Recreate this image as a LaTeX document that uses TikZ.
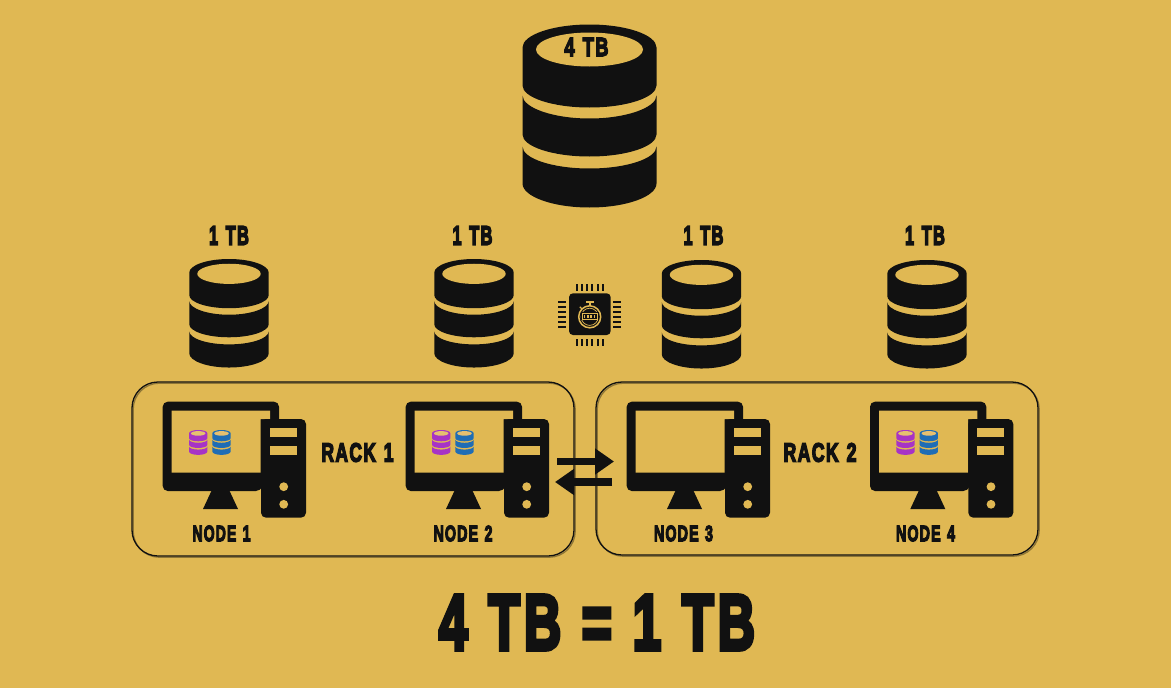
\documentclass[tikz,border=0pt]{standalone}
\usepackage{fontspec}
\usepackage{graphicx}
\usetikzlibrary{arrows.meta}
\newfontfamily\impactfont[LetterSpace=8,BoldFeatures={FakeBold=6}]{Liberation Sans}
\definecolor{bgyellow}{HTML}{E0B853}
\definecolor{ink}{HTML}{111111}
\definecolor{shade}{HTML}{8F7636}
\definecolor{dbpurple}{HTML}{A733C6}
\definecolor{dbblue}{HTML}{1F6DB5}
\definecolor{stripe}{HTML}{E6C070}
\newcommand{\fitlabel}[3]{\resizebox{#1pt}{#2pt}{\impactfont\bfseries\fontsize{30}{34}\selectfont #3}}
% database icon: centre x, top y, scale, body colour, disc colour
\newcommand{\dbicon}[5]{%
  \begin{scope}[shift={(#1,#2)},scale=#3]
    \fill[#4] (-67,23) .. controls (-67,10.4) and (-37,0) .. (0,0) .. controls (37,0) and (67,10.4) .. (67,23)
      -- (67,61) .. controls (67,73) and (37,83) .. (0,83) .. controls (-37,83) and (-67,73) .. (-67,61) -- cycle;
    \fill[#4] (-67,71) .. controls (-67,83) and (-37,94) .. (0,94) .. controls (37,94) and (67,83) .. (67,71)
      -- (67,110) .. controls (67,122) and (37,132) .. (0,132) .. controls (-37,132) and (-67,122) .. (-67,110) -- cycle;
    \fill[#4] (-67,122) .. controls (-67,134) and (-37,144) .. (0,144) .. controls (37,144) and (67,134) .. (67,122)
      -- (67,159) .. controls (67,172) and (37,183) .. (0,183) .. controls (-37,183) and (-67,172) .. (-67,159) -- cycle;
    \fill[#5] (0,25) ellipse [x radius=53.5,y radius=17];
  \end{scope}}
% computer icon: left x, top y of the monitor
\newcommand{\pcicon}[2]{%
  \begin{scope}[shift={(#1,#2)}]
    \fill[ink,rounded corners=5pt] (0,0) -- (116.3,0) -- (116.3,30) -- (98.3,89.3) -- (0,89.3) -- cycle;
    \fill[bgyellow] (9,9) -- (107.3,9) -- (107.3,17.3) -- (98,17.3) -- (98,71) -- (9,71) -- cycle;
    \fill[ink] (49.3,88) -- (66.3,88) -- (75.3,107.3) -- (40.3,107.3) -- cycle;
    \fill[ink,rounded corners=5pt] (98.3,17.3) rectangle (143.3,116);
    \fill[bgyellow] (107.3,26.6) rectangle (134,35.6);
    \fill[bgyellow] (107.3,44.3) rectangle (134,53.3);
    \fill[bgyellow] (121,85) circle [radius=4.4];
    \fill[bgyellow] (121,102.6) circle [radius=4.4];
  \end{scope}}
\tikzset{
  x=1pt,y=-1pt,
  txt/.style={inner sep=0pt,outer sep=0pt,text=ink},
  rackbox/.style={draw=ink,line width=1.3pt,rounded corners=26pt,inner sep=0pt,
    preaction={draw=shade,line width=1.3pt,transform canvas={xshift=1.2pt,yshift=-1.2pt}}},
  linkarrow/.style={draw=ink,line width=7.6pt,-{Triangle[length=19pt,width=25pt]}},
  pin/.style={fill=ink},
}
\begin{document}
\begin{tikzpicture}
\useasboundingbox (0,0) rectangle (1171,688);
\fill[bgyellow] (0,0) rectangle (1171,688);

% big database
\dbicon{589.5}{24.5}{1}{ink}{bgyellow}
\node[txt] (big) at (586.5,47) {\fitlabel{44}{18}{4\hspace{.45em}TB}};

% small databases
\dbicon{229}{259}{0.593}{ink}{bgyellow}
\dbicon{474}{259}{0.593}{ink}{bgyellow}
\dbicon{701.5}{260}{0.593}{ink}{bgyellow}
\dbicon{927}{260}{0.593}{ink}{bgyellow}
\node[txt] (tb1) at (229,235.5) {\fitlabel{40}{18.5}{1\hspace{.45em}TB}};
\node[txt] (tb2) at (472.5,235.5) {\fitlabel{40}{18.5}{1\hspace{.45em}TB}};
\node[txt] (tb3) at (703.5,235.5) {\fitlabel{40}{18.5}{1\hspace{.45em}TB}};
\node[txt] (tb4) at (925,235.5) {\fitlabel{40}{18.5}{1\hspace{.45em}TB}};

% chip with stopwatch
\fill[ink,rounded corners=4pt] (569,293.3) rectangle (610.7,335);
\foreach \i in {0,...,5}{
  \fill[pin] ({577.1+5.1*\i-1},284.3) rectangle ({577.1+5.1*\i+1},291);
  \fill[pin] ({577.1+5.1*\i-1},339.3) rectangle ({577.1+5.1*\i+1},346);
  \fill[pin] (558.3,{301.7+5*\i-1}) rectangle (565.7,{301.7+5*\i+1});
  \fill[pin] (613.3,{301.7+5*\i-1}) rectangle (620.7,{301.7+5*\i+1});
}
\draw[bgyellow,line width=1.5pt] (589.7,316.8) circle [radius=11];
\draw[bgyellow,line width=.7pt] (589.7,316.8) circle [radius=8.6];
\fill[bgyellow] (586,301) rectangle (593.5,303);
\fill[bgyellow] (588.6,303) rectangle (590.8,306);
\draw[bgyellow,line width=1.4pt] (579.8,306.8) -- (581.8,308.8);
\fill[ink] (581,312.4) rectangle (598.6,320.4);
\draw[bgyellow,line width=.9pt] (582,313.6) rectangle (597.6,319.4);
\foreach \i in {0,...,3}{\fill[bgyellow] ({583.6+3.3*\i},315) rectangle ({585.4+3.3*\i},318);}

% racks
\node[rackbox,minimum width=442pt,minimum height=174pt] (rack1) at (353,469) {};
\node[rackbox,minimum width=442pt,minimum height=173pt] (rack2) at (817,468.5) {};

% computers
\pcicon{162.7}{401.7}
\pcicon{405.7}{401.7}
\pcicon{626.7}{401.7}
\pcicon{870}{401.7}

% mini databases on the screens
\dbicon{198.2}{430}{0.136}{dbpurple}{stripe}
\dbicon{221.5}{430}{0.136}{dbblue}{stripe}
\dbicon{441.2}{430}{0.136}{dbpurple}{stripe}
\dbicon{464.5}{430}{0.136}{dbblue}{stripe}
\dbicon{905.5}{430}{0.136}{dbpurple}{stripe}
\dbicon{928.8}{430}{0.136}{dbblue}{stripe}

% labels
\node[txt] (rl1) at (357.5,452.5) {\fitlabel{72}{18.5}{RACK\hspace{.45em}1}};
\node[txt] (rl2) at (820,452.5) {\fitlabel{73}{18.5}{RACK\hspace{.45em}2}};
\node[txt] (n1) at (221.5,533.5) {\fitlabel{58}{15.5}{NODE\hspace{.45em}1}};
\node[txt] (n2) at (463,533.5) {\fitlabel{59}{15.5}{NODE\hspace{.45em}2}};
\node[txt] (n3) at (683.5,533.5) {\fitlabel{59}{15.5}{NODE\hspace{.45em}3}};
\node[txt] (n4) at (925.5,533.5) {\fitlabel{59}{15.5}{NODE\hspace{.45em}4}};
\node[txt] (eq) at (597,622.5) {\fitlabel{316}{54}{4\hspace{.4em}TB\hspace{.4em}=\hspace{.4em}1\hspace{.4em}TB}};

% arrows between the racks
\coordinate (ra) at (557.3,461.5);
\coordinate (rb) at (614,461.5);
\coordinate (la) at (612,482);
\coordinate (lb) at (555,482);
\draw[linkarrow] (ra) -- (rb);
\draw[linkarrow] (la) -- (lb);
\end{tikzpicture}
\end{document}
